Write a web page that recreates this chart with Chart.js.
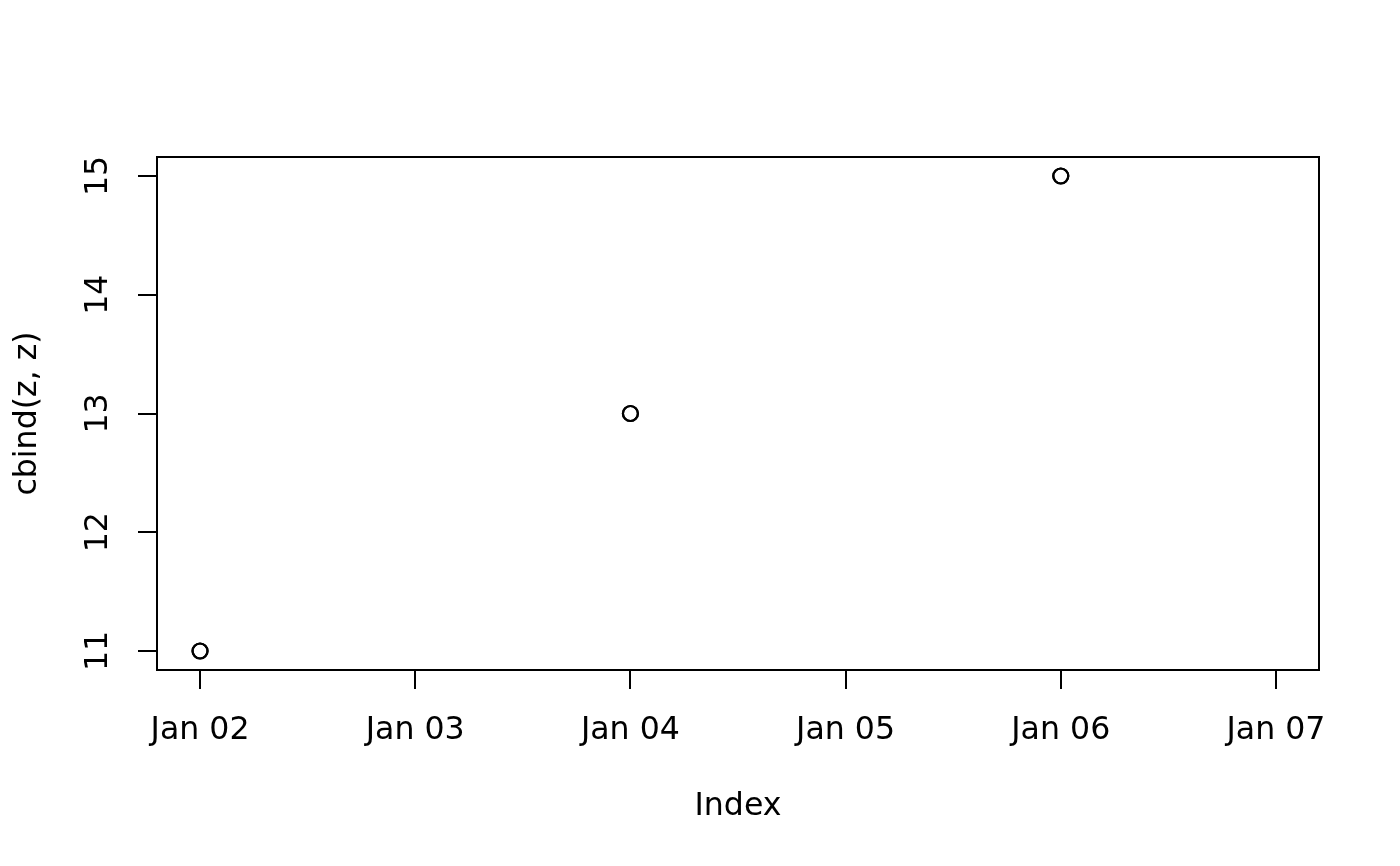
<!DOCTYPE html>
<html>
<head>
<meta charset="utf-8">
<script src="https://cdn.jsdelivr.net/npm/chart.js@4"></script>
<style>
html,body{margin:0;padding:0;background:#fff;}
#wrap{width:1400px;height:866px;}
</style>
</head>
<body>
<div id="wrap"><canvas id="c" width="1400" height="866"></canvas></div>
<script>
// Data
const pointDays = [2, 4, 6];          // Jan 02, Jan 04, Jan 06
const seriesA = [11, 13, 15];
const seriesB = [11, 13, 15];         // cbind(z, z): identical second column
const xTickDays = [2, 3, 4, 5, 6, 7];
const xTickLabels = ['Jan 02', 'Jan 03', 'Jan 04', 'Jan 05', 'Jan 06', 'Jan 07'];
const yTicks = [11, 12, 13, 14, 15];
const xLabel = 'Index';
const yLabel = 'cbind(z, z)';

const FONT = {family: "'DejaVu Sans', sans-serif", size: 31.6};

const boxPlugin = {
  id: 'box',
  afterDatasetsDraw(chart) {
    const {ctx, chartArea: a} = chart;
    ctx.save();
    ctx.strokeStyle = '#000';
    ctx.lineWidth = 2;
    ctx.strokeRect(a.left, a.top, a.right - a.left, a.bottom - a.top);
    ctx.restore();
  }
};

const toPts = vals => pointDays.map((d, i) => ({x: d, y: vals[i]}));

new Chart(document.getElementById('c'), {
  type: 'scatter',
  data: {
    datasets: [
      {data: toPts(seriesA), pointStyle: 'circle', pointRadius: 7.5, pointBorderWidth: 2.2,
       borderColor: '#000', backgroundColor: 'rgba(0,0,0,0)', pointBackgroundColor: 'rgba(0,0,0,0)'},
      {data: toPts(seriesB), pointStyle: 'circle', pointRadius: 7.5, pointBorderWidth: 2.2,
       borderColor: '#000', backgroundColor: 'rgba(0,0,0,0)', pointBackgroundColor: 'rgba(0,0,0,0)'}
    ]
  },
  options: {
    responsive: false,
    animation: false,
    devicePixelRatio: 1,
    layout: {padding: {top: 157, right: 81, left: 0, bottom: 0}},
    plugins: {legend: {display: false}, tooltip: {enabled: false}},
    scales: {
      x: {
        type: 'linear',
        min: 1.8, max: 7.2,
        afterBuildTicks: s => { s.ticks = xTickDays.map(v => ({value: v})); },
        afterFit: s => { s.height = 196; },
        border: {display: false},
        grid: {display: true, drawOnChartArea: false, drawTicks: true, tickLength: 19, color: '#000', lineWidth: 2},
        ticks: {
          color: '#000', font: FONT, padding: 23, maxRotation: 0, minRotation: 0, autoSkip: false,
          callback: v => xTickLabels[xTickDays.indexOf(v)]
        },
        title: {display: true, text: xLabel, color: '#000', font: FONT, padding: {top: 0, bottom: 40}}
      },
      y: {
        type: 'linear',
        min: 10.84, max: 15.16,
        afterBuildTicks: s => { s.ticks = yTicks.map(v => ({value: v})); },
        afterFit: s => { s.width = 157; },
        border: {display: false},
        grid: {display: true, drawOnChartArea: false, drawTicks: true, tickLength: 19, color: '#000', lineWidth: 2},
        ticks: {
          color: '#000', font: FONT, padding: 19, minRotation: 90, maxRotation: 90,
          crossAlign: 'center', autoSkip: false,
          callback: v => String(v)
        },
        title: {display: true, text: yLabel, color: '#000', font: FONT, padding: {top: 9, bottom: 0}}
      }
    }
  },
  plugins: [boxPlugin]
});
</script>
</body>
</html>
